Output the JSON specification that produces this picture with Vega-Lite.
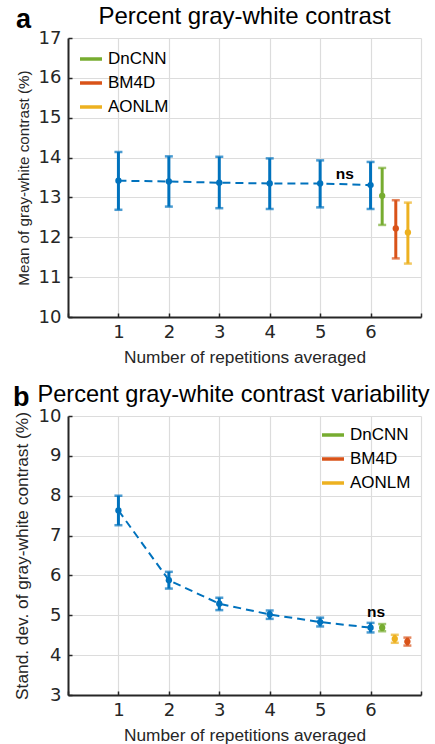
{
  "$schema": "https://vega.github.io/schema/vega-lite/v6.json",
  "padding": {"left": 13, "top": 5, "right": 0, "bottom": 0},
  "spacing": 17,
  "resolve": {"scale": {"color": "independent", "y": "independent"}, "legend": {"color": "independent"}},
  "datasets": {
    "A": [
      {"x": 1, "m": 13.42, "lo": 12.69, "hi": 14.14, "g": "avg"},
      {"x": 2, "m": 13.40, "lo": 12.77, "hi": 14.03, "g": "avg"},
      {"x": 3, "m": 13.37, "lo": 12.73, "hi": 14.02, "g": "avg"},
      {"x": 4, "m": 13.35, "lo": 12.71, "hi": 13.98, "g": "avg"},
      {"x": 5, "m": 13.35, "lo": 12.75, "hi": 13.93, "g": "avg"},
      {"x": 6, "m": 13.31, "lo": 12.71, "hi": 13.89, "g": "avg"},
      {"x": 6.23, "m": 13.04, "lo": 12.31, "hi": 13.74, "g": "DnCNN"},
      {"x": 6.5, "m": 12.22, "lo": 11.47, "hi": 12.93, "g": "BM4D"},
      {"x": 6.74, "m": 12.12, "lo": 11.34, "hi": 12.87, "g": "AONLM"}
    ],
    "B": [
      {"x": 1, "m": 7.63, "lo": 7.26, "hi": 8.0, "g": "avg"},
      {"x": 2, "m": 5.88, "lo": 5.67, "hi": 6.09, "g": "avg"},
      {"x": 3, "m": 5.29, "lo": 5.13, "hi": 5.44, "g": "avg"},
      {"x": 4, "m": 5.02, "lo": 4.91, "hi": 5.12, "g": "avg"},
      {"x": 5, "m": 4.83, "lo": 4.72, "hi": 4.94, "g": "avg"},
      {"x": 6, "m": 4.69, "lo": 4.57, "hi": 4.81, "g": "avg"},
      {"x": 6.23, "m": 4.69, "lo": 4.60, "hi": 4.78, "g": "DnCNN"},
      {"x": 6.48, "m": 4.41, "lo": 4.31, "hi": 4.51, "g": "AONLM"},
      {"x": 6.73, "m": 4.34, "lo": 4.24, "hi": 4.44, "g": "BM4D"}
    ],
    "nsA": [{"x": 5.49, "y": 13.6, "t": "ns"}],
    "nsB": [{"x": 6.11, "y": 5.09, "t": "ns"}]
  },
  "vconcat": [
    {
      "title": {"text": "a", "anchor": "start", "frame": "bounds", "fontSize": 27, "fontWeight": "bold", "color": "#000000", "offset": -29},
      "resolve": {"scale": {"color": "independent"}, "legend": {"color": "independent"}},
      "vconcat": [
        {
          "width": 353,
          "height": 279,
          "title": {"text": "Percent gray-white contrast", "anchor": "middle", "fontSize": 24, "fontWeight": "normal", "color": "#000000", "offset": 0},
          "layer": [
            {
              "data": {"name": "A"},
              "transform": [{"filter": "datum.g == 'avg'"}],
              "mark": {"type": "line", "strokeDash": [8, 5], "strokeWidth": 2, "color": "#0072BD"},
              "encoding": {
                "x": {"field": "x", "type": "quantitative", "scale": {"domain": [0, 7]}, "title": "Number of repetitions averaged",
                  "axis": {"values": [0, 1, 2, 3, 4, 5, 6, 7], "labelExpr": "datum.value >= 1 && datum.value <= 6 ? datum.label : ''"}},
                "y": {"field": "m", "type": "quantitative", "scale": {"domain": [10, 17]}, "title": "Mean of gray-white contrast (%)",
                  "axis": {"values": [10, 11, 12, 13, 14, 15, 16, 17], "titleFontSize": 15.2}}
              }
            },
            {
              "data": {"name": "A"},
              "mark": {"type": "rule", "strokeWidth": 3},
              "encoding": {
                "x": {"field": "x", "type": "quantitative", "scale": {"domain": [0, 7]}, "title": "Number of repetitions averaged",
                  "axis": {"values": [0, 1, 2, 3, 4, 5, 6, 7], "labelExpr": "datum.value >= 1 && datum.value <= 6 ? datum.label : ''"}},
                "y": {"field": "lo", "type": "quantitative", "scale": {"domain": [10, 17]}, "title": "Mean of gray-white contrast (%)",
                  "axis": {"values": [10, 11, 12, 13, 14, 15, 16, 17], "titleFontSize": 15.2}},
                "y2": {"field": "hi"},
                "color": {"field": "g", "type": "nominal",
                  "scale": {"domain": ["avg", "DnCNN", "BM4D", "AONLM"], "range": ["#0072BD", "#77AC30", "#D95319", "#EDB120"]},
                  "legend": {"values": ["DnCNN", "BM4D", "AONLM"], "title": null, "orient": "none", "legendX": 10, "legendY": 8, "symbolType": "stroke", "symbolSize": 484, "symbolStrokeWidth": 3.5, "labelFontSize": 17, "labelColor": "#000000", "rowPadding": 3, "padding": 0, "labelOffset": 4}}
              }
            },
            {
              "data": {"name": "A"},
              "mark": {"type": "tick", "orient": "horizontal", "size": 8, "thickness": 2.5},
              "encoding": {
                "x": {"field": "x", "type": "quantitative", "scale": {"domain": [0, 7]}, "title": "Number of repetitions averaged",
                  "axis": {"values": [0, 1, 2, 3, 4, 5, 6, 7], "labelExpr": "datum.value >= 1 && datum.value <= 6 ? datum.label : ''"}},
                "y": {"field": "lo", "type": "quantitative", "scale": {"domain": [10, 17]}, "title": "Mean of gray-white contrast (%)",
                  "axis": {"values": [10, 11, 12, 13, 14, 15, 16, 17], "titleFontSize": 15.2}},
                "color": {"field": "g", "type": "nominal", "legend": null}
              }
            },
            {
              "data": {"name": "A"},
              "mark": {"type": "tick", "orient": "horizontal", "size": 8, "thickness": 2.5},
              "encoding": {
                "x": {"field": "x", "type": "quantitative", "scale": {"domain": [0, 7]}, "title": "Number of repetitions averaged",
                  "axis": {"values": [0, 1, 2, 3, 4, 5, 6, 7], "labelExpr": "datum.value >= 1 && datum.value <= 6 ? datum.label : ''"}},
                "y": {"field": "hi", "type": "quantitative", "scale": {"domain": [10, 17]}, "title": "Mean of gray-white contrast (%)",
                  "axis": {"values": [10, 11, 12, 13, 14, 15, 16, 17], "titleFontSize": 15.2}},
                "color": {"field": "g", "type": "nominal", "legend": null}
              }
            },
            {
              "data": {"name": "A"},
              "mark": {"type": "point", "filled": true, "size": 40, "opacity": 1},
              "encoding": {
                "x": {"field": "x", "type": "quantitative", "scale": {"domain": [0, 7]}, "title": "Number of repetitions averaged",
                  "axis": {"values": [0, 1, 2, 3, 4, 5, 6, 7], "labelExpr": "datum.value >= 1 && datum.value <= 6 ? datum.label : ''"}},
                "y": {"field": "m", "type": "quantitative", "scale": {"domain": [10, 17]}, "title": "Mean of gray-white contrast (%)",
                  "axis": {"values": [10, 11, 12, 13, 14, 15, 16, 17], "titleFontSize": 15.2}},
                "color": {"field": "g", "type": "nominal", "legend": null}
              }
            },
            {
              "data": {"name": "nsA"},
              "mark": {"type": "text", "fontSize": 15.5, "fontWeight": "bold", "color": "#000000"},
              "encoding": {
                "x": {"field": "x", "type": "quantitative", "scale": {"domain": [0, 7]}, "title": "Number of repetitions averaged",
                  "axis": {"values": [0, 1, 2, 3, 4, 5, 6, 7], "labelExpr": "datum.value >= 1 && datum.value <= 6 ? datum.label : ''"}},
                "y": {"field": "y", "type": "quantitative", "scale": {"domain": [10, 17]}, "title": "Mean of gray-white contrast (%)",
                  "axis": {"values": [10, 11, 12, 13, 14, 15, 16, 17], "titleFontSize": 15.2}},
                "text": {"field": "t"}
              }
            }
          ]
        }
      ]
    },
    {
      "title": {"text": "b", "anchor": "start", "frame": "bounds", "fontSize": 27, "fontWeight": "bold", "color": "#000000", "offset": -29},
      "resolve": {"scale": {"color": "independent"}, "legend": {"color": "independent"}},
      "vconcat": [
        {
          "width": 353,
          "height": 279,
          "title": {"text": "Percent gray-white contrast variability", "anchor": "middle", "dx": -11, "fontSize": 23.6, "fontWeight": "normal", "color": "#000000", "offset": 0},
          "layer": [
            {
              "data": {"name": "B"},
              "transform": [{"filter": "datum.g == 'avg'"}],
              "mark": {"type": "line", "strokeDash": [8, 5], "strokeWidth": 2, "color": "#0072BD"},
              "encoding": {
                "x": {"field": "x", "type": "quantitative", "scale": {"domain": [0, 7]}, "title": "Number of repetitions averaged",
                  "axis": {"values": [0, 1, 2, 3, 4, 5, 6, 7], "labelExpr": "datum.value >= 1 && datum.value <= 6 ? datum.label : ''"}},
                "y": {"field": "m", "type": "quantitative", "scale": {"domain": [3, 10]}, "title": "Stand. dev. of gray-white contrast (%)",
                  "axis": {"values": [3, 4, 5, 6, 7, 8, 9, 10]}}
              }
            },
            {
              "data": {"name": "B"},
              "mark": {"type": "rule", "strokeWidth": 3},
              "encoding": {
                "x": {"field": "x", "type": "quantitative", "scale": {"domain": [0, 7]}, "title": "Number of repetitions averaged",
                  "axis": {"values": [0, 1, 2, 3, 4, 5, 6, 7], "labelExpr": "datum.value >= 1 && datum.value <= 6 ? datum.label : ''"}},
                "y": {"field": "lo", "type": "quantitative", "scale": {"domain": [3, 10]}, "title": "Stand. dev. of gray-white contrast (%)",
                  "axis": {"values": [3, 4, 5, 6, 7, 8, 9, 10]}},
                "y2": {"field": "hi"},
                "color": {"field": "g", "type": "nominal",
                  "scale": {"domain": ["avg", "DnCNN", "BM4D", "AONLM"], "range": ["#0072BD", "#77AC30", "#D95319", "#EDB120"]},
                  "legend": {"values": ["DnCNN", "BM4D", "AONLM"], "title": null, "orient": "none", "legendX": 252, "legendY": 6, "symbolType": "stroke", "symbolSize": 484, "symbolStrokeWidth": 3.5, "labelFontSize": 17, "labelColor": "#000000", "rowPadding": 3, "padding": 0, "labelOffset": 4}}
              }
            },
            {
              "data": {"name": "B"},
              "mark": {"type": "tick", "orient": "horizontal", "size": 8, "thickness": 2.5},
              "encoding": {
                "x": {"field": "x", "type": "quantitative", "scale": {"domain": [0, 7]}, "title": "Number of repetitions averaged",
                  "axis": {"values": [0, 1, 2, 3, 4, 5, 6, 7], "labelExpr": "datum.value >= 1 && datum.value <= 6 ? datum.label : ''"}},
                "y": {"field": "lo", "type": "quantitative", "scale": {"domain": [3, 10]}, "title": "Stand. dev. of gray-white contrast (%)",
                  "axis": {"values": [3, 4, 5, 6, 7, 8, 9, 10]}},
                "color": {"field": "g", "type": "nominal", "legend": null}
              }
            },
            {
              "data": {"name": "B"},
              "mark": {"type": "tick", "orient": "horizontal", "size": 8, "thickness": 2.5},
              "encoding": {
                "x": {"field": "x", "type": "quantitative", "scale": {"domain": [0, 7]}, "title": "Number of repetitions averaged",
                  "axis": {"values": [0, 1, 2, 3, 4, 5, 6, 7], "labelExpr": "datum.value >= 1 && datum.value <= 6 ? datum.label : ''"}},
                "y": {"field": "hi", "type": "quantitative", "scale": {"domain": [3, 10]}, "title": "Stand. dev. of gray-white contrast (%)",
                  "axis": {"values": [3, 4, 5, 6, 7, 8, 9, 10]}},
                "color": {"field": "g", "type": "nominal", "legend": null}
              }
            },
            {
              "data": {"name": "B"},
              "mark": {"type": "point", "filled": true, "size": 40, "opacity": 1},
              "encoding": {
                "x": {"field": "x", "type": "quantitative", "scale": {"domain": [0, 7]}, "title": "Number of repetitions averaged",
                  "axis": {"values": [0, 1, 2, 3, 4, 5, 6, 7], "labelExpr": "datum.value >= 1 && datum.value <= 6 ? datum.label : ''"}},
                "y": {"field": "m", "type": "quantitative", "scale": {"domain": [3, 10]}, "title": "Stand. dev. of gray-white contrast (%)",
                  "axis": {"values": [3, 4, 5, 6, 7, 8, 9, 10]}},
                "color": {"field": "g", "type": "nominal", "legend": null}
              }
            },
            {
              "data": {"name": "nsB"},
              "mark": {"type": "text", "fontSize": 15.5, "fontWeight": "bold", "color": "#000000"},
              "encoding": {
                "x": {"field": "x", "type": "quantitative", "scale": {"domain": [0, 7]}, "title": "Number of repetitions averaged",
                  "axis": {"values": [0, 1, 2, 3, 4, 5, 6, 7], "labelExpr": "datum.value >= 1 && datum.value <= 6 ? datum.label : ''"}},
                "y": {"field": "y", "type": "quantitative", "scale": {"domain": [3, 10]}, "title": "Stand. dev. of gray-white contrast (%)",
                  "axis": {"values": [3, 4, 5, 6, 7, 8, 9, 10]}},
                "text": {"field": "t"}
              }
            }
          ]
        }
      ]
    }
  ],
  "config": {
    "font": "Liberation Sans",
    "view": {"stroke": null},
    "axis": {
      "labelFontSize": 18, "labelColor": "#262626", "labelFont": "DejaVu Sans", "labelOverlap": false,
      "titleFontSize": 17.3, "titleColor": "#262626", "titleFontWeight": "normal", "titleFont": "Liberation Sans",
      "grid": true, "gridColor": "#dcdcdc", "gridWidth": 1.2,
      "domainColor": "#262626", "domainWidth": 2,
      "tickColor": "#262626", "tickWidth": 1.5, "tickSize": -4
    },
    "axisY": {"titlePadding": 7, "labelPadding": 11},
    "axisX": {"titlePadding": 7, "labelPadding": 10},
    "legend": {"labelFont": "Liberation Sans"}
  }
}
